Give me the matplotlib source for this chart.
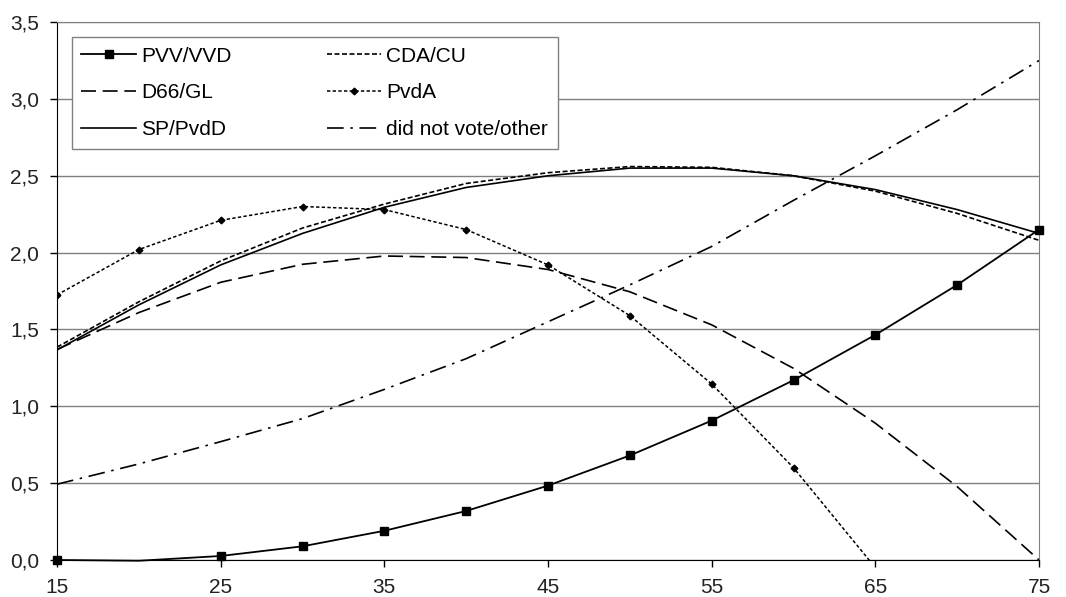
import numpy as np
import matplotlib.pyplot as plt
from matplotlib.ticker import FuncFormatter

plt.rcParams['font.family'] = ['Liberation Sans', 'DejaVu Sans']

age = [15, 20, 25, 30, 35, 40, 45, 50, 55, 60, 65, 70, 75]
pvv_vvd = [0.0, -0.005, 0.026, 0.089, 0.19, 0.319, 0.484, 0.68, 0.907, 1.17, 1.465, 1.79, 2.15]
cda_cu = [1.385, 1.68, 1.946, 2.16, 2.316, 2.45, 2.52, 2.56, 2.555, 2.50, 2.40, 2.255, 2.08]
d66_gl = [1.37, 1.61, 1.807, 1.924, 1.978, 1.968, 1.89, 1.745, 1.53, 1.247, 0.89, 0.477, 0.0]
pvda = [1.725, 2.02, 2.21, 2.30, 2.28, 2.15, 1.92, 1.59, 1.145, 0.60, -0.05, -0.8, -1.6]
sp_pvdd = [1.367, 1.66, 1.92, 2.125, 2.295, 2.424, 2.50, 2.55, 2.55, 2.50, 2.41, 2.28, 2.125]
other = [0.493, 0.625, 0.77, 0.92, 1.11, 1.31, 1.55, 1.79, 2.04, 2.34, 2.63, 2.93, 3.25]

fig = plt.figure(figsize=(10.66, 5.97), dpi=100)
ax = fig.add_axes([0.0535, 0.062, 0.9212, 0.901])

# like Excel: markers below the plot area are hidden, the rest are not clipped
pvv_marks = [i for i, v in enumerate(pvv_vvd) if v >= 0]
l_pvv, = ax.plot(age, pvv_vvd, color='black', lw=1.3, marker='s', ms=5.5,
                 markevery=pvv_marks, clip_on=False, zorder=3, label='PVV/VVD')
l_cda, = ax.plot(age, cda_cu, color='black', lw=1.2, dashes=(3, 1.5), label='CDA/CU')
l_d66, = ax.plot(age, d66_gl, color='black', lw=1.2, dashes=(9, 4), label='D66/GL')
l_pvda, = ax.plot(age, pvda, color='black', lw=1.1, dashes=(2.2, 1.5), marker='D', ms=3.4, label='PvdA')
l_sp, = ax.plot(age, sp_pvdd, color='black', lw=1.2, label='SP/PvdD')
l_oth, = ax.plot(age, other, color='black', lw=1.2, dashes=(10, 4, 1.5, 4), label='did not vote/other')

ax.set_xlim(15, 75)
ax.set_ylim(0, 3.5)
ax.set_xticks([15, 25, 35, 45, 55, 65, 75])
ax.set_yticks(np.arange(0, 3.51, 0.5))
ax.yaxis.set_major_formatter(FuncFormatter(lambda v, p: f'{v:.1f}'.replace('.', ',')))
ax.grid(axis='y', color='#808080', lw=1)
ax.set_axisbelow(True)
ax.tick_params(labelsize=15, length=5, width=1, pad=8, color='black', labelcolor='#222222')
for s in ['top', 'right']:
    ax.spines[s].set_color('#808080')
for s in ['left', 'bottom']:
    ax.spines[s].set_color('black')

leg = ax.legend([l_pvv, l_d66, l_sp, l_cda, l_pvda, l_oth],
                ['PVV/VVD', 'D66/GL', 'SP/PvdD', 'CDA/CU', 'PvdA', 'did not vote/other'],
                ncol=2, loc='upper left', bbox_to_anchor=(0.0153, 0.972), borderaxespad=0,
                fontsize=15, handlelength=2.6, handletextpad=0.25, columnspacing=4.6,
                labelspacing=0.86, borderpad=0.45, fancybox=False, framealpha=1,
                edgecolor='#808080')
leg.get_frame().set_linewidth(1)
leg.set_zorder(5)

fig.savefig('out.png', dpi=100)
